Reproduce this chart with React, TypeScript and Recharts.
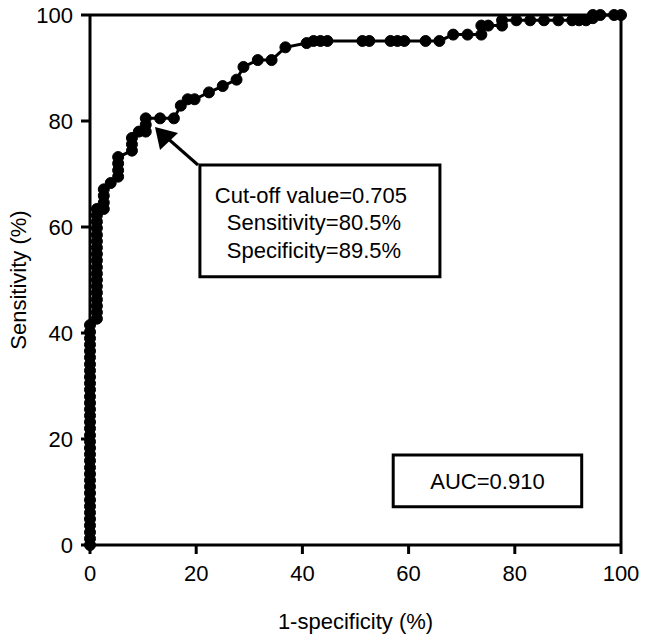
import { LineChart, Line, XAxis, YAxis, ReferenceLine, ReferenceArea } from "recharts";

// 1-specificity (%) and sensitivity (%) for each ROC point
const fpr = [
  0, 0, 0, 0, 0, 0, 0, 0, 0, 0, 0, 0, 0, 0, 0, 0, 0, 0, 0, 0, 0, 0, 0, 0, 0, 0, 0, 0, 0, 0, 0, 0, 0, 0, 0,
  1.3, 1.3, 1.3, 1.3, 1.3, 1.3, 1.3, 1.3, 1.3, 1.3, 1.3, 1.3, 1.3, 1.3, 1.3, 1.3, 1.3, 1.3,
  2.6, 2.6, 2.6, 2.6,
  3.9,
  5.3, 5.3, 5.3, 5.3,
  7.9, 7.9, 7.9,
  9.2,
  10.5, 10.5, 10.5,
  13.2, 15.8, 17.1, 18.4, 19.7, 22.4, 25.0, 27.6, 28.9, 31.6, 34.2, 36.8,
  40.8, 42.1, 43.4, 44.7, 51.3, 52.6, 56.6, 57.9, 59.2, 63.2, 65.8,
  68.4, 71.1, 73.7,
  73.7, 75.0, 77.6,
  77.6, 80.3, 82.9, 85.5, 88.2, 90.8, 92.1, 93.4,
  94.7, 94.7, 96.1, 98.7, 100,
];
const tpr = [
  0, 1.2, 2.4, 3.7, 4.9, 6.1, 7.3, 8.5, 9.8, 11.0, 12.2, 13.4, 14.6, 15.9, 17.1, 18.3, 19.5, 20.7, 22.0,
  23.2, 24.4, 25.6, 26.8, 28.0, 29.3, 30.5, 31.7, 32.9, 34.1, 35.4, 36.6, 37.8, 39.0, 40.2, 41.5,
  42.7, 43.9, 45.1, 46.3, 47.6, 48.8, 50.0, 51.2, 52.4, 53.7, 54.9, 56.1, 57.3, 58.5, 59.8, 61.0, 62.2, 63.4,
  63.4, 64.6, 65.9, 67.1,
  68.3,
  69.5, 70.7, 72.0, 73.2,
  74.4, 75.6, 76.8,
  78.0,
  78.0, 79.3, 80.5,
  80.5, 80.5, 82.9, 84.1, 84.1, 85.4, 86.6, 87.8, 90.2, 91.5, 91.5, 93.9,
  94.7, 95.1, 95.1, 95.1, 95.1, 95.1, 95.1, 95.1, 95.1, 95.1, 95.1,
  96.3, 96.3, 96.3,
  98.0, 98.0, 98.0,
  99.0, 99.0, 99.0, 99.0, 99.0, 99.0, 99.0, 99.0,
  99.4, 100, 100, 100, 100,
];
const xTicks = [0, 20, 40, 60, 80, 100];
const yTicks = [0, 20, 40, 60, 80, 100];
const cutoffLines = ["Cut-off value=0.705", "Sensitivity=80.5%", "Specificity=89.5%"];
const aucText = "AUC=0.910";

const data = fpr.map((x, i) => ({ x, y: tpr[i] }));

const font = "'Liberation Sans', Arial, Helvetica, sans-serif";
const fs = 22;
const tickStyle = { fontSize: fs, fill: "#000", fontFamily: font };

const CutoffLabel = (props: any) => {
  const { x, y } = props.viewBox;
  const offsets = [111, 114, 114];
  const rows = [31, 58, 86];
  return (
    <g>
      {cutoffLines.map((t, i) => (
        <text key={t} x={x + offsets[i]} y={y + rows[i]} textAnchor="middle" dominantBaseline="central"
          fontSize={fs} fontFamily={font} fill="#000">{t}</text>
      ))}
    </g>
  );
};

const AucLabel = (props: any) => {
  const { x, y, width, height } = props.viewBox;
  return (
    <text x={x + width / 2} y={y + height / 2 + 1} textAnchor="middle" dominantBaseline="central"
      fontSize={fs} fontFamily={font} fill="#000">{aucText}</text>
  );
};

export default function App() {
  return (
    <div style={{ position: "absolute", left: 0, top: 0, width: 646, height: 640, background: "#fff" }}>
      <LineChart width={646} height={640} data={data} margin={{ top: 15, right: 25, bottom: 0, left: 0 }}>
        <XAxis type="number" dataKey="x" domain={[0, 100]} ticks={xTicks} interval={0}
          axisLine={{ stroke: "#000", strokeWidth: 3 }} tickLine={{ stroke: "#000", strokeWidth: 3 }}
          tickSize={9} tickMargin={11} tick={tickStyle} height={95}
          label={(p: any) => (
            <text x={p.viewBox.x + p.viewBox.width / 2} y={p.viewBox.y + 76} textAnchor="middle"
              dominantBaseline="central" fontSize={fs} fontFamily={font} fill="#000">1-specificity (%)</text>
          )} />
        <YAxis type="number" domain={[0, 100]} ticks={yTicks} interval={0}
          axisLine={{ stroke: "#000", strokeWidth: 3 }} tickLine={{ stroke: "#000", strokeWidth: 3 }}
          tickSize={9} tickMargin={8} tick={tickStyle} width={90}
          label={(p: any) => {
            const cx = p.viewBox.x + 18;
            const cy = p.viewBox.y + p.viewBox.height / 2;
            return (
              <text x={cx} y={cy} transform={`rotate(-90 ${cx} ${cy})`} textAnchor="middle"
                dominantBaseline="central" fontSize={fs} fontFamily={font} fill="#000">Sensitivity (%)</text>
            );
          }} />
        <ReferenceLine y={100} stroke="#000" strokeWidth={3} />
        <ReferenceLine x={100} stroke="#000" strokeWidth={3} />
        <ReferenceArea x1={20.7} x2={65.9} y1={50.6} y2={71.7} fill="#fff" fillOpacity={1}
          stroke="#000" strokeWidth={3} label={<CutoffLabel />} />
        <ReferenceArea x1={57.1} x2={92.6} y1={7.2} y2={17.0} fill="#fff" fillOpacity={1}
          stroke="#000" strokeWidth={3} label={<AucLabel />} />
        <Line type="linear" dataKey="y" stroke="#000" strokeWidth={3} isAnimationActive={false}
          dot={{ r: 5.5, fill: "#000", stroke: "#000", strokeWidth: 1 }} activeDot={false} />
      </LineChart>
      <svg width={646} height={640} style={{ position: "absolute", left: 0, top: 0, pointerEvents: "none" }}>
        <line x1={198} y1={165} x2={165} y2={136} stroke="#000" strokeWidth={3} />
        <polygon points="155,127 160,150 178,133" fill="#000" />
      </svg>
    </div>
  );
}
